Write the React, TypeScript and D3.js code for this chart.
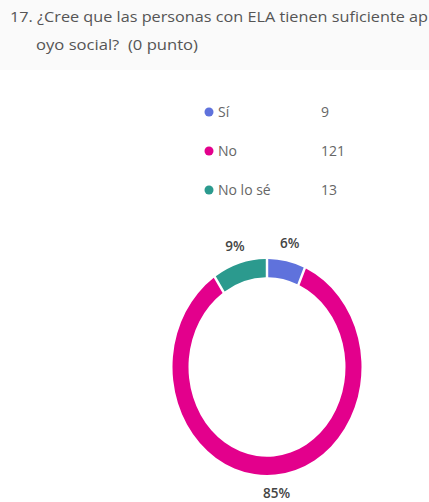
import React from "react";
import * as d3 from "d3";

const categories = ["Sí", "No", "No lo sé"];
const counts = [9, 121, 13];
const colors = ["#5f72dc", "#e3008c", "#2b9a8e"];
const titleLines = [
  "17. ¿Cree que las personas con ELA tienen suficiente ap",
  "oyo social?  (0 punto)",
];

export default function App() {
  const W = 429, H = 502;
  const cx = 267, cy = 367;
  const R = 94.5, thick = 16, sy = 1.143;
  const total = d3.sum(counts);
  const pie = d3.pie<number>().sort(null).value((d) => d).padAngle(0.02);
  const arcs = pie(counts);
  const arc = d3.arc<d3.PieArcDatum<number>>().innerRadius(R - thick).outerRadius(R);
  const labelR = 111;
  const legendY = [112, 151, 190];
  return (
    <svg width={W} height={H} style={{ position: "absolute", left: 0, top: 0, background: "#fff" }}
      fontFamily="'Open Sans', 'Noto Sans', sans-serif">
      <rect x={0} y={0} width={W} height={70} fill="#fafafa" />
      <text x={10} y={22} fontSize={15} fill="#555" textLength={418} lengthAdjust="spacingAndGlyphs">{titleLines[0]}</text>
      <text x={36} y={50} fontSize={15} fill="#555" textLength={162} lengthAdjust="spacingAndGlyphs" style={{ whiteSpace: "pre" }}>{titleLines[1]}</text>
      {categories.map((c, i) => (
        <g key={c}>
          <circle cx={209} cy={legendY[i]} r={4.5} fill={colors[i]} />
          <text x={218} y={legendY[i] + 5} fontSize={14} fill="#666">{c}</text>
          <text x={321} y={legendY[i] + 5} fontSize={14} fill="#666">{counts[i]}</text>
        </g>
      ))}
      <g transform={`translate(${cx},${cy}) scale(1,${sy})`}>
        {arcs.map((a, i) => (
          <path key={i} d={arc(a) || ""} fill={colors[i]} />
        ))}
      </g>
      {arcs.map((a, i) => {
        const mid = (a.startAngle + a.endAngle) / 2;
        const x = cx + labelR * Math.sin(mid);
        const y = cy - labelR * sy * Math.cos(mid);
        return (
          <text key={i} x={x} y={y + 5} fontSize={13.5} fontWeight={600} fill="#444" textAnchor="middle">
            {Math.round((counts[i] / total) * 100)}%
          </text>
        );
      })}
    </svg>
  );
}
